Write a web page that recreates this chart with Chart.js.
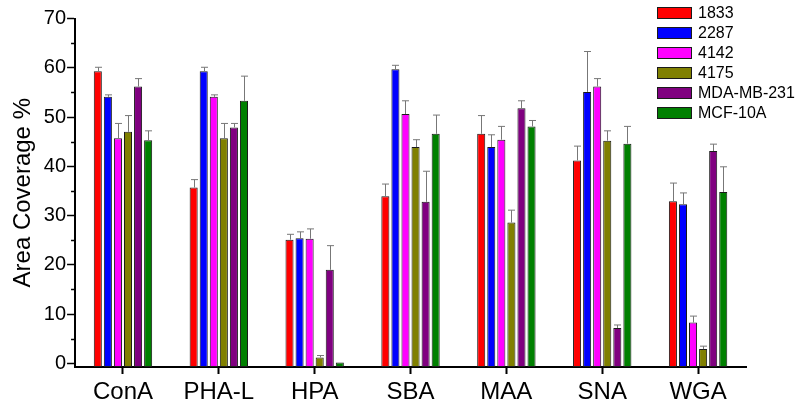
<!DOCTYPE html>
<html>
<head>
<meta charset="utf-8">
<script src="https://cdn.jsdelivr.net/npm/chart.js@4/dist/chart.umd.min.js"></script>
<style>
    body { margin: 0; background: #fff; }
    #wrap { width: 803px; height: 410px; }
</style>
</head>
<body>
<div id="wrap"><canvas id="chart" width="803" height="410"></canvas></div>
<script>
const lectins = ['ConA', 'PHA-L', 'HPA', 'SBA', 'MAA', 'SNA', 'WGA'];
const cellLines = ['1833', '2287', '4142', '4175', 'MDA-MB-231', 'MCF-10A'];

const cov1833 = [59.3, 35.7, 25.1, 33.9, 46.6, 41.2, 32.9];
const cov2287 = [54.1, 59.3, 25.4, 59.7, 43.9, 55.1, 32.3];
const cov4142 = [45.7, 54.1, 25.3, 50.6, 45.4, 56.2, 8.3];
const cov4175 = [47.0, 45.7, 1.2, 43.9, 28.6, 45.2, 2.9];
const covMDA = [56.2, 47.9, 19.0, 32.8, 51.8, 7.2, 43.1];
const covMCF = [45.3, 53.3, 0.2, 46.6, 48.1, 44.6, 34.8];

const err1833 = [0.8, 1.6, 1.1, 2.5, 3.7, 2.9, 3.7];
const err2287 = [0.4, 0.8, 1.3, 0.8, 2.5, 8.2, 2.3];
const err4142 = [3.0, 0.4, 2.0, 2.7, 2.7, 1.6, 1.3];
const err4175 = [3.3, 3.0, 0.4, 1.5, 2.5, 2.0, 0.6];
const errMDA = [1.6, 0.8, 4.9, 6.2, 1.5, 0.6, 1.4];
const errMCF = [1.9, 5.0, 0, 3.8, 1.2, 3.5, 5.1];

const yTicks = [0, 10, 20, 30, 40, 50, 60, 70];
const yMinorTicks = [5, 15, 25, 35, 45, 55, 65];

const colors = ['#ff0000', '#0000ff', '#ff00ff', '#808000', '#800080', '#008000'];
const allValues = [cov1833, cov2287, cov4142, cov4175, covMDA, covMCF];
const allErrors = [err1833, err2287, err4142, err4175, errMDA, errMCF];

const FONT = 'Arial, "Liberation Sans", sans-serif';
const Y_MIN = -0.73;

const datasets = cellLines.map((name, i) => ({
    label: name,
    data: allValues[i],
    errors: allErrors[i],
    backgroundColor: colors[i],
    borderColor: '#1a1a1a',
    borderWidth: 1,
    borderSkipped: false,
    base: Y_MIN,
    barPercentage: 0.8,
    categoryPercentage: 0.63
}));

// upward error bars with caps
const errorBars = {
    id: 'errorBars',
    afterDatasetsDraw(chart) {
        const ctx = chart.ctx;
        const y = chart.scales.y;
        ctx.save();
        ctx.strokeStyle = '#777';
        ctx.lineWidth = 1;
        chart.data.datasets.forEach((ds, di) => {
            const meta = chart.getDatasetMeta(di);
            meta.data.forEach((bar, i) => {
                const e = ds.errors[i];
                if (!e) return;
                const top = y.getPixelForValue(ds.data[i] + e);
                const x = Math.round(bar.x) + 0.5;
                ctx.beginPath();
                ctx.moveTo(x, bar.y);
                ctx.lineTo(x, top);
                ctx.moveTo(x - 3.5, top);
                ctx.lineTo(x + 3.5, top);
                ctx.stroke();
            });
        });
        ctx.restore();
    }
};

// minor ticks on y axis + legend box in the corner
const extras = {
    id: 'extras',
    afterDraw(chart) {
        const ctx = chart.ctx;
        const y = chart.scales.y;
        const left = chart.chartArea.left;
        ctx.save();
        ctx.strokeStyle = '#000';
        ctx.lineWidth = 1.5;
        yMinorTicks.forEach(v => {
            const py = Math.round(y.getPixelForValue(v)) + 0.5;
            ctx.beginPath();
            ctx.moveTo(left - 4, py);
            ctx.lineTo(left, py);
            ctx.stroke();
        });

        ctx.font = '16px ' + FONT;
        ctx.textBaseline = 'middle';
        ctx.textAlign = 'left';
        chart.data.datasets.forEach((ds, i) => {
            const top = 7 + i * 20;
            ctx.fillStyle = ds.backgroundColor;
            ctx.fillRect(657, top, 35, 12);
            ctx.strokeStyle = '#1a1a1a';
            ctx.lineWidth = 1;
            ctx.strokeRect(657.5, top + 0.5, 34, 11);
            ctx.fillStyle = '#000';
            ctx.fillText(ds.label, 698, top + 6.5);
        });
        ctx.restore();
    }
};

new Chart(document.getElementById('chart'), {
    type: 'bar',
    data: { labels: lectins, datasets },
    options: {
        responsive: false,
        animation: false,
        layout: { padding: { top: 18.5, right: 57, bottom: 0, left: 9 } },
        plugins: {
            legend: { display: false },
            tooltip: { enabled: false }
        },
        scales: {
            x: {
                grid: {
                    offset: false,
                    drawOnChartArea: false,
                    tickLength: 7,
                    tickColor: '#000',
                    tickWidth: 2
                },
                border: { color: '#000', width: 2 },
                ticks: {
                    color: '#000',
                    padding: 3,
                    font: { family: FONT, size: 24, lineHeight: 1.25 }
                }
            },
            y: {
                min: Y_MIN,
                max: 70,
                afterBuildTicks(scale) {
                    scale.ticks = yTicks.map(v => ({ value: v }));
                },
                grid: {
                    drawOnChartArea: false,
                    tickLength: 8,
                    tickColor: '#000',
                    tickWidth: 1.5
                },
                border: { color: '#000', width: 2 },
                ticks: {
                    color: '#000',
                    padding: 1,
                    font: { family: FONT, size: 20 }
                },
                title: {
                    display: true,
                    text: 'Area Coverage %',
                    color: '#000',
                    padding: { top: 0, bottom: 5 },
                    font: { family: FONT, size: 24 }
                }
            }
        }
    },
    plugins: [errorBars, extras]
});
</script>
</body>
</html>
